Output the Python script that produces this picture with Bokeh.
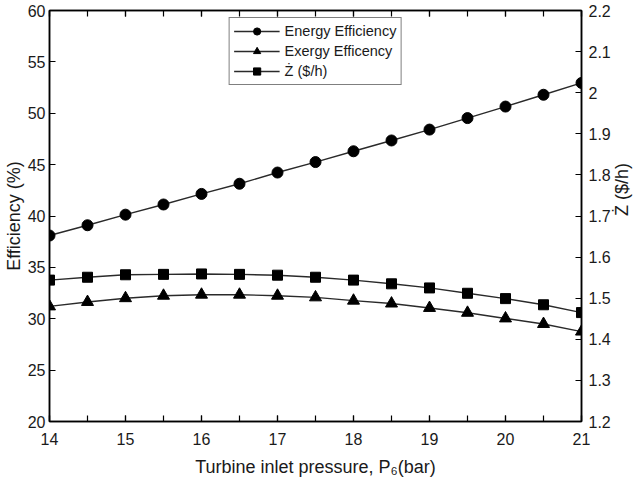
import math
from bokeh.plotting import figure
from bokeh.models import Range1d, LinearAxis, FixedTicker
from bokeh.embed import file_html
from bokeh.resources import INLINE

pressure = [14, 14.5, 15, 15.5, 16, 16.5, 17, 17.5, 18, 18.5, 19, 19.5, 20, 20.5, 21]
energy_eff = [38.1, 39.1, 40.13, 41.12, 42.15, 43.14, 44.23, 45.25, 46.3, 47.35, 48.41, 49.53, 50.65, 51.8, 52.95]
exergy_eff = [31.2, 31.63, 32.0, 32.24, 32.34, 32.34, 32.24, 32.08, 31.76, 31.48, 31.05, 30.58, 30.03, 29.49, 28.75]
z_cost = [1.544, 1.551, 1.557, 1.558, 1.559, 1.558, 1.556, 1.551, 1.544, 1.535, 1.525, 1.512, 1.499, 1.484, 1.465]

x_ticks = [14, 15, 16, 17, 18, 19, 20, 21]
left_ticks = [20, 25, 30, 35, 40, 45, 50, 55, 60]
right_ticks = [1.2, 1.3, 1.4, 1.5, 1.6, 1.7, 1.8, 1.9, 2.0, 2.1, 2.2]

FONT = "Liberation Sans"
TXT = "#1a1a1a"

p = figure(frame_width=532, frame_height=411, output_backend="svg", toolbar_location=None,
           x_range=Range1d(14, 21), y_range=Range1d(20, 60),
           min_border_left=40, min_border_right=50, min_border_top=10, min_border_bottom=10)
p.extra_y_ranges = {"z": Range1d(1.2, 2.2)}
p.grid.visible = False
p.outline_line_color = "black"
p.outline_line_width = 1.5
p.background_fill_color = "white"
p.border_fill_color = "white"

def style(ax):
    ax.axis_line_color = "black"
    ax.axis_line_width = 1.5
    ax.major_tick_in = 6
    ax.major_tick_out = 0
    ax.major_tick_line_color = "black"
    ax.major_tick_line_width = 1.2
    ax.minor_tick_in = 6
    ax.minor_tick_out = 0
    ax.minor_tick_line_color = "black"
    ax.minor_tick_line_width = 1.2
    ax.major_label_text_font = FONT
    ax.major_label_text_font_size = "16px"
    ax.major_label_text_color = TXT
    ax.axis_label_text_font = FONT
    ax.axis_label_text_font_size = "18px"
    ax.axis_label_text_font_style = "normal"
    ax.axis_label_text_color = TXT

xa = p.xaxis[0]
style(xa)
xa.ticker = FixedTicker(ticks=x_ticks, minor_ticks=pressure)
xa.axis_label = "Turbine inlet pressure, P\u2086(bar)"
xa.major_label_standoff = 11
xa.axis_label_standoff = 9

ya = p.yaxis[0]
style(ya)
ya.ticker = FixedTicker(ticks=left_ticks)
ya.axis_label = "Efficiency (%)"
ya.major_label_standoff = 4
ya.axis_label_standoff = 1

top = LinearAxis()
style(top)
top.ticker = FixedTicker(ticks=x_ticks, minor_ticks=pressure)
top.major_label_overrides = {t: "" for t in x_ticks}
top.major_label_standoff = 0
p.add_layout(top, "above")

ra = LinearAxis(y_range_name="z")
style(ra)
ra.ticker = FixedTicker(ticks=right_ticks)
ra.major_label_overrides = {2.0: "2"}
ra.axis_label = "\u017b ($/h)"
ra.axis_label_orientation = math.pi / 2
ra.major_label_standoff = 7
ra.axis_label_standoff = 8
p.add_layout(ra, "right")

LC = "#2a2a2a"
p.line(pressure, energy_eff, line_color=LC, line_width=1.4, legend_label="Energy Efficiency")
p.scatter(pressure, energy_eff, marker="circle", size=11, fill_color="black", line_color="black",
          legend_label="Energy Efficiency")
p.line(pressure, exergy_eff, line_color=LC, line_width=1.4, legend_label="Exergy Efficency")
p.scatter(pressure, exergy_eff, marker="triangle", size=12, fill_color="black", line_color="black",
          legend_label="Exergy Efficency")
p.line(pressure, z_cost, line_color=LC, line_width=1.4, y_range_name="z", legend_label="\u017b ($/h)")
p.scatter(pressure, z_cost, marker="square", size=10, fill_color="black", line_color="black",
          y_range_name="z", legend_label="\u017b ($/h)")

lg = p.legend[0]
lg.location = "top_center"
lg.margin = 7
lg.border_line_color = "black"
lg.border_line_width = 1.5
lg.background_fill_alpha = 1
lg.label_text_font = FONT
lg.label_text_font_size = "14.5px"
lg.label_text_color = TXT
lg.glyph_width = 46
lg.glyph_height = 18
lg.label_height = 18
lg.spacing = 2
lg.padding = 4
lg.label_standoff = 5

open("out.html", "w").write(file_html(p, INLINE))
